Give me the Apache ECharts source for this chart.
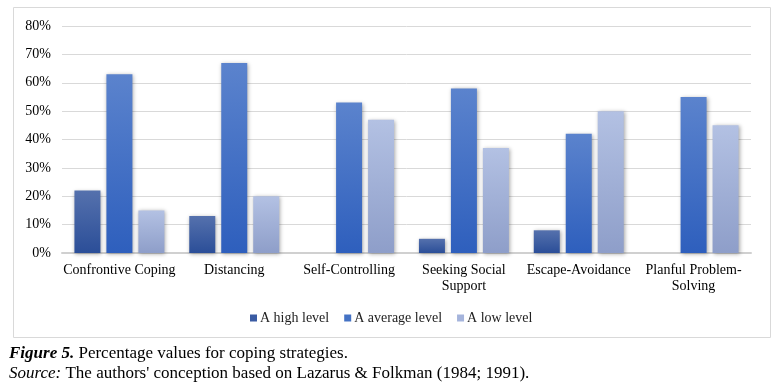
<!DOCTYPE html>
<html><head><meta charset="utf-8">
<script src="https://cdn.jsdelivr.net/npm/echarts@6/dist/echarts.min.js"></script>
<style>html,body{margin:0;padding:0;background:#fff}#c{width:779px;height:385px}</style>
</head><body><div id="c"></div>
<script>
const categories = ['Confrontive Coping','Distancing','Self-Controlling','Seeking Social\nSupport','Escape-Avoidance','Planful Problem-\nSolving'];
const seriesNames = ['A high level','A average level','A low level'];
const highLevel = [22, 13, 0, 5, 8, 0];
const averageLevel = [63, 67, 53, 58, 42, 55];
const lowLevel = [15, 20, 47, 37, 50, 45];
const yTicks = [0,10,20,30,40,50,60,70,80];

const font = '"Liberation Serif","Times New Roman",serif';
function grad(top, bottom){
  return new echarts.graphic.LinearGradient(0,0,0,1,[{offset:0,color:top},{offset:1,color:bottom}]);
}
const colors = [grad('#5571ad','#2b4e98'), grad('#5b83cd','#2e5fbd'), grad('#b3c1e3','#8e9ec9')];
const legendColors = ['#3a5ba3','#4472c4','#a5b4dc'];
const data = [highLevel, averageLevel, lowLevel];

const chart = echarts.init(document.getElementById('c'), null, {renderer:'canvas'});
chart.setOption({
  animation:false,
  textStyle:{fontFamily:font},
  grid:{left:62, right:28, top:26, bottom:132},
  graphic:[{type:'rect', shape:{x:13.5,y:7.5,width:757,height:330}, style:{fill:'none', stroke:'#d9d9d9', lineWidth:1}, z:-1}],
  title:[{
    left:4, top:340,
    text:'{b|Figure 5.} Percentage values for coping strategies.',
    textStyle:{fontFamily:font, fontSize:17, fontWeight:'normal', color:'#000', rich:{b:{fontFamily:font,fontSize:17,fontWeight:'bold',fontStyle:'italic',color:'#000'}}}
  },{
    left:4, top:360,
    text:'{i|Source:} The authors\' conception based on Lazarus & Folkman (1984; 1991).',
    textStyle:{fontFamily:font, fontSize:17, fontWeight:'normal', color:'#000', rich:{i:{fontFamily:font,fontSize:17,fontStyle:'italic',color:'#000'}}}
  }],
  legend:{
    top:306, left:245, icon:'rect', itemWidth:7, itemHeight:7, itemGap:15,
    textStyle:{fontFamily:font, fontSize:14, color:'#222', padding:[0,0,0,-2]},
    data: seriesNames.map((n,i)=>({name:n, itemStyle:{color:legendColors[i]}}))
  },
  xAxis:{
    type:'category', data:categories,
    axisLine:{lineStyle:{color:'#d0d0d0', width:2}},
    axisTick:{show:false},
    axisLabel:{fontFamily:font, fontSize:14, color:'#000', margin:9, lineHeight:16, interval:0}
  },
  yAxis:{
    type:'value', min:0, max:80, interval:10,
    axisLine:{show:false}, axisTick:{show:false},
    splitLine:{lineStyle:{color:'#d9d9d9', width:1}},
    axisLabel:{fontFamily:font, fontSize:14, color:'#000', margin:11, formatter: v => v + '%'}
  },
  series: seriesNames.map((n,i)=>({
    name:n, type:'bar', data:data[i], barWidth:26, barGap:'23%',
    itemStyle:{color:colors[i], shadowBlur:4, shadowColor:'rgba(0,0,0,0.35)', shadowOffsetX:1, shadowOffsetY:1}
  }))
});
</script></body></html>
